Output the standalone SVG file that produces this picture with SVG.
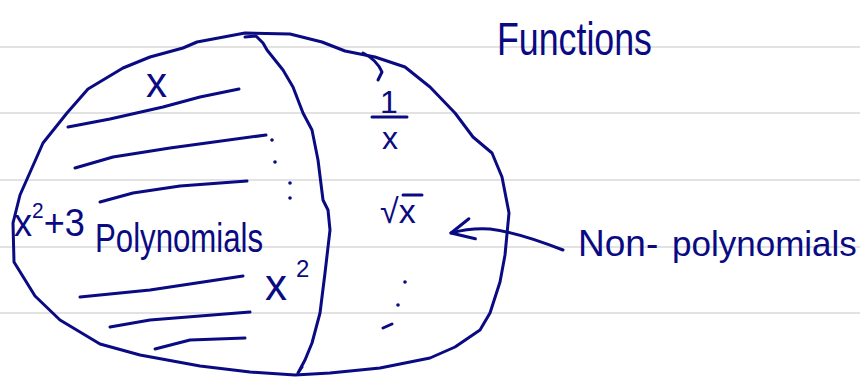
<svg xmlns="http://www.w3.org/2000/svg" width="860" height="378" viewBox="0 0 860 378">
<style>
.rule{stroke:#e2e2e2;stroke-width:2}
.ink{fill:none;stroke:#0a0a82;stroke-width:3;stroke-linecap:round;stroke-linejoin:round}
.dot{fill:#0a0a82}
.t{fill:#0a0a82;font-family:"Liberation Sans","DejaVu Sans",sans-serif}
</style>
<defs>
<marker id="open-arrow" markerUnits="userSpaceOnUse" viewBox="-26 -15 30 30" markerWidth="30" markerHeight="30" refX="0" refY="0" orient="auto">
<path d="M-22,-12 L0,0 L-21,9" fill="none" stroke="#0a0a82" stroke-width="3" stroke-linecap="round" stroke-linejoin="round"/>
</marker>
</defs>
<rect width="860" height="378" fill="#ffffff"/>
<g id="rules">
<line class="rule" x1="0" y1="47" x2="860" y2="47"/>
<line class="rule" x1="0" y1="113" x2="860" y2="113"/>
<line class="rule" x1="0" y1="180" x2="860" y2="180"/>
<line class="rule" x1="0" y1="247" x2="860" y2="247"/>
<line class="rule" x1="0" y1="313" x2="860" y2="313"/>
</g>
<g id="functions">
<path class="ink" d="M245,33 L290,34 L322,42 L345,51 L375,57 L405,67 L430,87 L455,113 L473,137 L492,153 L502,177 L509,213 L505,255 L500,282 L490,313 L480,330 L455,347 L430,358 L380,368 L330,373 L295,375 L250,372 L200,366 L140,355 L100,344 L60,320 L35,296 L14,262 L13,223 L20,195 L43,143 L67,113 L88,89 L123,68 L150,57 L183,48 L197,42 Z"/>
<path class="ink" d="M363,53 Q377,60 382,72 L378,80"/>
<text class="t" transform="translate(497,55) scale(0.777,1)" x="0" y="0" font-size="46">Functions</text>
</g>
<g id="divider">
<path class="ink" d="M245,37 L256,36 L263,43 L267,50 L283,70 L293,87 L303,113 L312,130 L318,160 L323,200 L328,210 L330,230 L325,273 L320,313 L312,343 L305,360 L298,373 L302,367"/>
</g>
<g id="polynomials">
<path class="ink" d="M68,127 L110,119 L163,107 L200,97 L239,89"/>
<path class="ink" d="M75,168 L113,157 L170,148 L266,135"/>
<path class="ink" d="M100,202 L133,193 L180,186 L247,181"/>
<path class="ink" d="M80,297 L150,290 L243,276"/>
<path class="ink" d="M110,327 L150,320 L250,312"/>
<path class="ink" d="M155,349 L190,340 L245,338"/>
<text class="t" x="146" y="97" font-size="42">x</text>
<text class="t" transform="translate(14,236) scale(0.95,1)" x="0" y="0" font-size="38">x<tspan dy="-18" font-size="22">2</tspan><tspan dy="18">+3</tspan></text>
<text class="t" transform="translate(95,252) scale(0.78,1)" x="0" y="0" font-size="40">Polynomials</text>
<text class="t" x="265" y="300" font-size="44">x<tspan dx="9" dy="-23" font-size="24">2</tspan></text>
<circle class="dot" cx="272" cy="140" r="1.8"/>
<circle class="dot" cx="275" cy="162" r="1.8"/>
<circle class="dot" cx="290" cy="183" r="1.8"/>
<circle class="dot" cx="290" cy="198" r="1.8"/>
</g>
<g id="non-polynomials">
<text class="t" x="389" y="113" font-size="32" text-anchor="middle">1</text>
<line class="ink" x1="372" y1="117" x2="407" y2="117"/>
<text class="t" x="390" y="149" font-size="32" text-anchor="middle">x</text>
<text class="t" x="380" y="223" font-size="34">√x</text>
<line class="ink" x1="403" y1="195" x2="422" y2="195"/>
<circle class="dot" cx="405" cy="282" r="1.8"/>
<circle class="dot" cx="398" cy="305" r="1.8"/>
<path class="ink" d="M383,328 L392,324"/>
<text class="t" x="578" y="256" font-size="37">Non-</text>
<text class="t" x="672" y="256" font-size="35">polynomials</text>
</g>
<g id="connectors">
<path class="ink" d="M563,250 C540,241 515,232 490,229 C475,228 462,230 451,233" marker-end="url(#open-arrow)"/>
</g>
</svg>
